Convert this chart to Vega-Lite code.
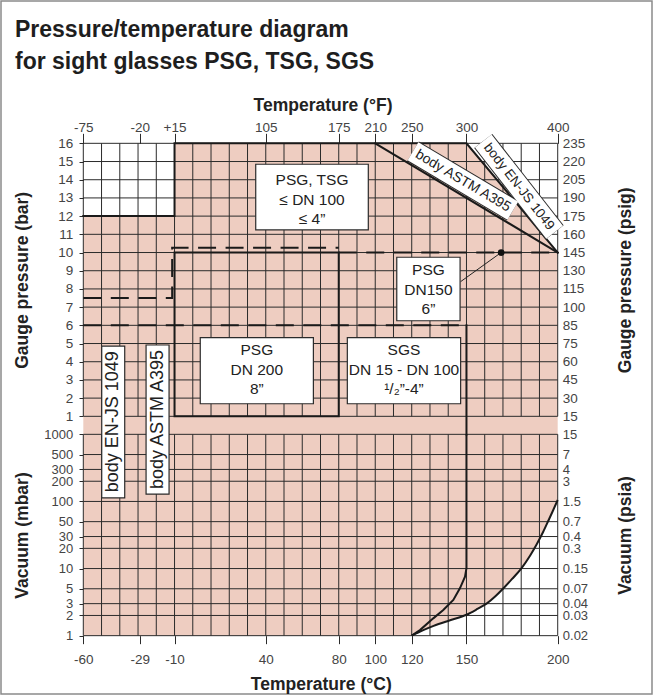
{
  "$schema": "https://vega.github.io/schema/vega-lite/v6.json",
  "width": 651,
  "height": 693,
  "autosize": {"type": "none"},
  "padding": {"left": 1, "top": 1, "right": 5, "bottom": 3},
  "background": "white",
  "title": {
    "text": ["Pressure/temperature diagram", "for sight glasses PSG, TSG, SGS"],
    "anchor": "start", "frame": "group", "offset": -91, "baseline": "alphabetic",
    "fontSize": 23, "fontWeight": "bold", "lineHeight": 31.7, "dx": 14, "color": "#1e1e1e", "font": "Liberation Sans"
  },
  "datasets": {
    "temps": [{"t":-60},{"t":-50},{"t":-40},{"t":-30},{"t":-20},{"t":-10},{"t":0},{"t":10},{"t":20},{"t":30},{"t":40},{"t":50},{"t":60},{"t":70},{"t":80},{"t":90},{"t":100},{"t":110},{"t":120},{"t":130},{"t":140},{"t":150},{"t":160},{"t":170},{"t":180},{"t":190},{"t":200}],
    "bars": [{"p":1},{"p":2},{"p":3},{"p":4},{"p":5},{"p":6},{"p":7},{"p":8},{"p":9},{"p":10},{"p":11},{"p":12},{"p":13},{"p":14},{"p":15},{"p":16}],
    "vacs": [{"v":1000},{"v":500},{"v":300},{"v":200},{"v":100},{"v":50},{"v":30},{"v":20},{"v":10},{"v":5},{"v":3},{"v":2},{"v":1}],
    "topRegion": [{"t":-10,"p":16},{"t":150,"p":16},{"t":200,"p":10}],
    "lowTempRegion": [{"t1":-60,"t2":0,"p1":0,"p2":12}],
    "vacRegion": [{"t":-60,"v":1},{"t":120,"v":1},{"t":126,"v":1.2},{"t":132,"v":1.4},{"t":141,"v":1.7},{"t":150,"v":2.05},{"t":156,"v":2.5},{"t":161,"v":3.0},{"t":166,"v":3.9},{"t":170,"v":5.0},{"t":175,"v":7.0},{"t":180,"v":10},{"t":185,"v":15.8},{"t":188.5,"v":23},{"t":192,"v":35},{"t":195,"v":52.5},{"t":197.5,"v":74},{"t":200,"v":105}],
    "solidBar": [
      {"s":"outer","o":0,"t":-60,"p":12},{"s":"outer","o":1,"t":-10,"p":12},{"s":"outer","o":2,"t":-10,"p":16},{"s":"outer","o":3,"t":150,"p":16},{"s":"outer","o":4,"t":200,"p":10},
      {"s":"astm","o":0,"t":100,"p":16},{"s":"astm","o":1,"t":200,"p":10},
      {"s":"dn200","o":0,"t":-10,"p":1},{"s":"dn200","o":1,"t":-10,"p":10},{"s":"dn200","o":2,"t":80,"p":10},{"s":"dn200","o":3,"t":80,"p":1},{"s":"dn200","o":4,"t":-10,"p":1},
      {"s":"sgs","o":0,"t":150,"p":6},{"s":"sgs","o":1,"t":150,"p":0}
    ],
    "dashedBar": [
      {"s":"low","o":0,"t":-60,"p":7.5},{"s":"low","o":1,"t":-11.3,"p":7.5},{"s":"low","o":2,"t":-11.3,"p":10.26},{"s":"low","o":3,"t":80,"p":10.26},
      {"s":"dn150","o":0,"t":80,"p":10},{"s":"dn150","o":1,"t":200,"p":10},
      {"s":"sgs6","o":0,"t":-60,"p":6},{"s":"sgs6","o":1,"t":150,"p":6}
    ],
    "solidVac": [{"o":0,"t":150,"v":1000},{"o":1,"t":150,"v":10.1},{"o":2,"t":149.2,"v":7.57},{"o":3,"t":146.4,"v":5.08},{"o":4,"t":142.8,"v":3.4},{"o":5,"t":137.3,"v":2.41},{"o":6,"t":131.8,"v":1.81},{"o":7,"t":124.5,"v":1.21},{"o":8,"t":120,"v":1}],
    "boxes": [
      {"t1":34.5,"t2":96.2,"p1":14.85,"p2":11.24},
      {"t1":4.1,"t2":66.1,"p1":5.32,"p2":1.69},
      {"t1":84.7,"t2":146.8,"p1":5.32,"p2":1.69},
      {"t1":111.8,"t2":146.5,"p1":9.74,"p2":6.25},
      {"t1":-49.9,"t2":-37.3,"p1":4.86,"p2":-3.48},
      {"t1":-25.6,"t2":-13.0,"p1":4.92,"p2":-3.27}
    ],
    "labels": [
      {"label":"PSG, TSG\n≤ DN 100\n≤ 4”","t":65.35,"p":13.97},
      {"label":"PSG\nDN 200\n8”","t":35.1,"p":4.62},
      {"label":"SGS\nDN 15 - DN 100\n¹/₂”-4”","t":115.75,"p":4.62},
      {"label":"PSG\nDN150\n6”","t":129.15,"p":9.03}
    ],
    "bodyLabels": [{"label":"body EN-JS 1049","t":-43.6,"p":0.7},{"label":"body ASTM A395","t":-19.3,"p":0.83}],
    "diag": [
      {"label":"body ASTM A395","t1":120.7,"p1":15.56,"t2":175.4,"p2":12.30,"tc":148.1,"pc":13.93},
      {"label":"body EN-JS 1049","t1":159.2,"p1":16.13,"t2":198.3,"p2":11.11,"tc":178.8,"pc":13.62}
    ],
    "marker": [{"t":169,"p":10,"t2":146.8,"p2":8.4}]
  },
  "layer": [
    {
      "data": {"name": "lowTempRegion"},
      "mark": {"type": "rect", "color": "#eecdc1", "opacity": 1},
      "encoding": {
        "x": {"field": "t1", "type": "quantitative", "scale": {"domain": [-105.105, 251.68], "nice": false, "zero": false}, "axis": null},
        "x2": {"field": "t2"},
        "y": {"field": "p1", "type": "quantitative", "scale": {"domain": [-14.257, 23.82], "nice": false, "zero": false}, "axis": null},
        "y2": {"field": "p2"}
      }
    },
    {
      "data": {"name": "topRegion"},
      "mark": {"type": "area", "color": "#eecdc1", "opacity": 1},
      "encoding": {
        "x": {"field": "t", "type": "quantitative", "scale": {"domain": [-105.105, 251.68], "nice": false, "zero": false}, "axis": null},
        "y": {"field": "p", "type": "quantitative", "stack": null, "scale": {"domain": [-14.257, 23.82], "nice": false, "zero": false}, "axis": null},
        "y2": {"datum": 0}
      }
    },
    {
      "data": {"name": "vacRegion"},
      "mark": {"type": "area", "color": "#eecdc1", "opacity": 1, "interpolate": "monotone"},
      "encoding": {
        "x": {"field": "t", "type": "quantitative", "scale": {"domain": [-105.105, 251.68], "nice": false, "zero": false}, "axis": null},
        "y": {"field": "v", "type": "quantitative", "stack": null, "scale": {"type": "log", "domain": [0.13514, 2864000000], "nice": false}, "axis": null},
        "y2": {"datum": 1000}
      }
    },
    {
      "data": {"name": "temps"},
      "mark": {"type": "rule", "color": "#2b2b2b", "strokeWidth": 1},
      "encoding": {
        "x": {"field": "t", "type": "quantitative", "scale": {"domain": [-105.105, 251.68], "nice": false, "zero": false},
          "axis": {"orient": "top", "offset": -142.33, "values": [-60,-29,-10,40,80,100,120,150,200],
            "labelExpr": "datum.value == -60 ? '-75' : datum.value == -29 ? '-20' : datum.value == -10 ? '+15' : datum.value == 40 ? '105' : datum.value == 80 ? '175' : datum.value == 100 ? '210' : datum.value == 120 ? '250' : datum.value == 150 ? '300' : '400'",
            "tickSize": 10, "labelPadding": 1.6, "labelBaseline": "alphabetic",
            "title": "Temperature (°F)", "titleX": 321.5, "titleY": -33.3, "titleBaseline": "alphabetic", "titleAlign": "center"}},
        "y": {"datum": 1, "type": "quantitative", "scale": {"domain": [-14.257, 23.82], "nice": false, "zero": false}, "axis": null},
        "y2": {"datum": 16}
      }
    },
    {
      "data": {"name": "temps"},
      "mark": {"type": "rule", "color": "#2b2b2b", "strokeWidth": 1},
      "encoding": {
        "x": {"field": "t", "type": "quantitative", "scale": {"domain": [-105.105, 251.68], "nice": false, "zero": false},
          "axis": {"orient": "bottom", "offset": -58.33, "values": [-60,-29,-10,40,80,100,120,150,200],
            "labelExpr": "'' + datum.value",
            "tickSize": 8, "labelPadding": 19.7, "labelBaseline": "alphabetic",
            "title": "Temperature (°C)", "titleX": 319.8, "titleY": 53.6, "titleBaseline": "alphabetic", "titleAlign": "center"}},
        "y": {"datum": 1, "type": "quantitative", "scale": {"type": "log", "domain": [0.13514, 2864000000], "nice": false}, "axis": null},
        "y2": {"datum": 1000}
      }
    },
    {
      "data": {"name": "bars"},
      "mark": {"type": "rule", "color": "#2b2b2b", "strokeWidth": 1},
      "encoding": {
        "y": {"field": "p", "type": "quantitative", "scale": {"domain": [-14.257, 23.82], "nice": false, "zero": false},
          "axis": {"orient": "left", "offset": -82.33, "values": [1,2,3,4,5,6,7,8,9,10,11,12,13,14,15,16],
            "tickSize": 4.3, "labelPadding": 6.3,
            "title": "Gauge pressure (bar)", "titleAngle": 270, "titleX": -55.8, "titleY": 278.8, "titleBaseline": "alphabetic", "titleAlign": "center"}},
        "x": {"datum": -60, "type": "quantitative", "scale": {"domain": [-105.105, 251.68], "nice": false, "zero": false}, "axis": null},
        "x2": {"datum": 200}
      }
    },
    {
      "data": {"name": "vacs"},
      "mark": {"type": "rule", "color": "#2b2b2b", "strokeWidth": 1},
      "encoding": {
        "y": {"field": "v", "type": "quantitative", "scale": {"type": "log", "domain": [0.13514, 2864000000], "nice": false},
          "axis": {"orient": "left", "offset": -82.33, "values": [1000,500,300,200,100,50,30,20,10,5,3,2,1], "format": "d",
            "tickSize": 4.3, "labelPadding": 6.3, "labelFontSize": 13,
            "title": "Vacuum (mbar)", "titleAngle": 270, "titleX": -55.8, "titleY": 534, "titleBaseline": "alphabetic", "titleAlign": "center"}},
        "x": {"datum": -60, "type": "quantitative", "scale": {"domain": [-105.105, 251.68], "nice": false, "zero": false}, "axis": null},
        "x2": {"datum": 200}
      }
    },
    {
      "data": {"name": "solidBar"},
      "mark": {"type": "line", "color": "#1a1a1a", "strokeWidth": 2, "strokeCap": "square"},
      "encoding": {
        "x": {"field": "t", "type": "quantitative", "scale": {"domain": [-105.105, 251.68], "nice": false, "zero": false}, "axis": null},
        "y": {"field": "p", "type": "quantitative", "scale": {"domain": [-14.257, 23.82], "nice": false, "zero": false},
          "axis": {"orient": "right", "offset": -94.3, "values": [1,2,3,4,5,6,7,8,9,10,11,12,13,14,15,16],
            "labelExpr": "['','15','30','45','60','75','85','100','115','130','145','160','175','190','205','220','235'][datum.value]",
            "ticks": false, "tickSize": 0, "labelPadding": 4.6,
            "title": "Gauge pressure (psig)", "titleAngle": 270, "titleX": 73, "titleY": 278.8, "titleBaseline": "alphabetic", "titleAlign": "center"}},
        "detail": {"field": "s"},
        "order": {"field": "o"}
      }
    },
    {
      "data": {"name": "dashedBar"},
      "mark": {"type": "line", "color": "#1a1a1a", "strokeWidth": 2, "strokeDash": [18, 9.5]},
      "encoding": {
        "x": {"field": "t", "type": "quantitative", "scale": {"domain": [-105.105, 251.68], "nice": false, "zero": false}, "axis": null},
        "y": {"field": "p", "type": "quantitative", "scale": {"domain": [-14.257, 23.82], "nice": false, "zero": false}, "axis": null},
        "detail": {"field": "s"},
        "order": {"field": "o"}
      }
    },
    {
      "data": {"name": "solidVac"},
      "mark": {"type": "line", "color": "#1a1a1a", "strokeWidth": 2},
      "encoding": {
        "x": {"field": "t", "type": "quantitative", "scale": {"domain": [-105.105, 251.68], "nice": false, "zero": false}, "axis": null},
        "y": {"field": "v", "type": "quantitative", "scale": {"type": "log", "domain": [0.13514, 2864000000], "nice": false},
          "axis": {"orient": "right", "offset": -94.3, "values": [1000,500,300,200,100,50,30,20,10,5,3,2,1],
            "labelExpr": "datum.value == 1000 ? '15' : datum.value == 500 ? '7' : datum.value == 300 ? '4' : datum.value == 200 ? '3' : datum.value == 100 ? '1.5' : datum.value == 50 ? '0.7' : datum.value == 30 ? '0.4' : datum.value == 20 ? '0.3' : datum.value == 10 ? '0.15' : datum.value == 5 ? '0.07' : datum.value == 3 ? '0.04' : datum.value == 2 ? '0.03' : '0.02'",
            "ticks": false, "tickSize": 0, "labelPadding": 4.6, "labelFontSize": 13,
            "title": "Vacuum (psia)", "titleAngle": 270, "titleX": 73, "titleY": 534, "titleBaseline": "alphabetic", "titleAlign": "center"}},
        "order": {"field": "o"}
      }
    },
    {
      "data": {"name": "vacRegion"},
      "transform": [{"filter": "datum.t >= 120"}],
      "mark": {"type": "line", "color": "#1a1a1a", "strokeWidth": 2, "interpolate": "monotone"},
      "encoding": {
        "x": {"field": "t", "type": "quantitative", "scale": {"domain": [-105.105, 251.68], "nice": false, "zero": false}, "axis": null},
        "y": {"field": "v", "type": "quantitative", "scale": {"type": "log", "domain": [0.13514, 2864000000], "nice": false}, "axis": null}
      }
    },
    {
      "data": {"name": "boxes"},
      "mark": {"type": "rect", "fill": "white", "stroke": "#2b2b2b", "strokeWidth": 1.2},
      "encoding": {
        "x": {"field": "t1", "type": "quantitative", "scale": {"domain": [-105.105, 251.68], "nice": false, "zero": false}, "axis": null},
        "x2": {"field": "t2"},
        "y": {"field": "p1", "type": "quantitative", "scale": {"domain": [-14.257, 23.82], "nice": false, "zero": false}, "axis": null},
        "y2": {"field": "p2"}
      }
    },
    {
      "data": {"name": "marker"},
      "mark": {"type": "rule", "color": "#222222", "strokeWidth": 1},
      "encoding": {
        "x": {"field": "t", "type": "quantitative", "scale": {"domain": [-105.105, 251.68], "nice": false, "zero": false}, "axis": null},
        "x2": {"field": "t2"},
        "y": {"field": "p", "type": "quantitative", "scale": {"domain": [-14.257, 23.82], "nice": false, "zero": false}, "axis": null},
        "y2": {"field": "p2"}
      }
    },
    {
      "data": {"name": "marker"},
      "mark": {"type": "point", "filled": true, "color": "#111111", "opacity": 1, "size": 45},
      "encoding": {
        "x": {"field": "t", "type": "quantitative", "scale": {"domain": [-105.105, 251.68], "nice": false, "zero": false}, "axis": null},
        "y": {"field": "p", "type": "quantitative", "scale": {"domain": [-14.257, 23.82], "nice": false, "zero": false}, "axis": null}
      }
    },
    {
      "data": {"name": "diag"},
      "mark": {"type": "rule", "color": "#2b2b2b", "strokeWidth": 23, "strokeCap": "butt"},
      "encoding": {
        "x": {"field": "t1", "type": "quantitative", "scale": {"domain": [-105.105, 251.68], "nice": false, "zero": false}, "axis": null},
        "x2": {"field": "t2"},
        "y": {"field": "p1", "type": "quantitative", "scale": {"domain": [-14.257, 23.82], "nice": false, "zero": false}, "axis": null},
        "y2": {"field": "p2"}
      }
    },
    {
      "data": {"name": "diag"},
      "mark": {"type": "rule", "color": "white", "strokeWidth": 21, "strokeCap": "butt"},
      "encoding": {
        "x": {"field": "t1", "type": "quantitative", "scale": {"domain": [-105.105, 251.68], "nice": false, "zero": false}, "axis": null},
        "x2": {"field": "t2"},
        "y": {"field": "p1", "type": "quantitative", "scale": {"domain": [-14.257, 23.82], "nice": false, "zero": false}, "axis": null},
        "y2": {"field": "p2"}
      }
    },
    {
      "data": {"name": "labels"},
      "mark": {"type": "text", "fontSize": 15.5, "lineHeight": 19.5, "lineBreak": "\n", "color": "#222222", "align": "center", "baseline": "middle"},
      "encoding": {
        "x": {"field": "t", "type": "quantitative", "scale": {"domain": [-105.105, 251.68], "nice": false, "zero": false}, "axis": null},
        "y": {"field": "p", "type": "quantitative", "scale": {"domain": [-14.257, 23.82], "nice": false, "zero": false}, "axis": null},
        "text": {"field": "label"}
      }
    },
    {
      "data": {"name": "bodyLabels"},
      "mark": {"type": "text", "fontSize": 18, "angle": 270, "color": "#222222", "align": "center", "baseline": "middle"},
      "encoding": {
        "x": {"field": "t", "type": "quantitative", "scale": {"domain": [-105.105, 251.68], "nice": false, "zero": false}, "axis": null},
        "y": {"field": "p", "type": "quantitative", "scale": {"domain": [-14.257, 23.82], "nice": false, "zero": false}, "axis": null},
        "text": {"field": "label"}
      }
    },
    {
      "data": {"name": "diag"},
      "transform": [{"filter": "datum.label == 'body ASTM A395'"}],
      "mark": {"type": "text", "fontSize": 14, "angle": 30.7, "color": "#222222", "align": "center", "baseline": "middle"},
      "encoding": {
        "x": {"field": "tc", "type": "quantitative", "scale": {"domain": [-105.105, 251.68], "nice": false, "zero": false}, "axis": null},
        "y": {"field": "pc", "type": "quantitative", "scale": {"domain": [-14.257, 23.82], "nice": false, "zero": false}, "axis": null},
        "text": {"field": "label"}
      }
    },
    {
      "data": {"name": "diag"},
      "transform": [{"filter": "datum.label == 'body EN-JS 1049'"}],
      "mark": {"type": "text", "fontSize": 13.5, "angle": 52, "color": "#222222", "align": "center", "baseline": "middle"},
      "encoding": {
        "x": {"field": "tc", "type": "quantitative", "scale": {"domain": [-105.105, 251.68], "nice": false, "zero": false}, "axis": null},
        "y": {"field": "pc", "type": "quantitative", "scale": {"domain": [-14.257, 23.82], "nice": false, "zero": false}, "axis": null},
        "text": {"field": "label"}
      }
    }
  ],
  "resolve": {"scale": {"y": "independent"}, "axis": {"x": "independent", "y": "independent"}},
  "config": {
    "font": "Liberation Sans",
    "view": {"stroke": "#8a8a8a", "strokeWidth": 1.5},
    "axis": {
      "domain": false, "grid": false,
      "labelFont": "Liberation Sans", "labelFontSize": 13.5, "labelColor": "#444444",
      "titleFont": "Liberation Sans", "titleFontSize": 17.5, "titleFontWeight": "bold", "titleColor": "#222222",
      "tickColor": "#2b2b2b", "tickWidth": 1,
      "labelOverlap": false, "labelFlush": false, "labelBound": false
    }
  }
}
